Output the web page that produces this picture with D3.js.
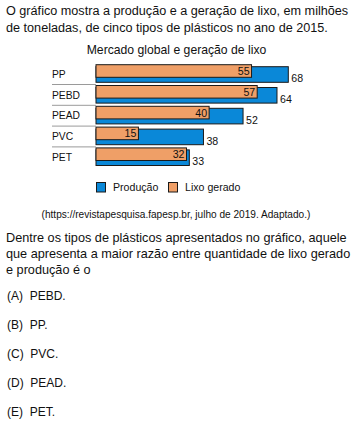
<!DOCTYPE html>
<html><head><meta charset="utf-8">
<script src="https://cdn.jsdelivr.net/npm/d3@7"></script>
<style>
html,body{margin:0;padding:0;background:#fff;}
svg{display:block;font-family:"Liberation Sans",Arial,sans-serif;}
</style></head>
<body>
<svg id="c" width="355" height="430"></svg>
<script>
const categories = ["PP","PEBD","PEAD","PVC","PET"];
const producao = [68,64,52,38,33];
const lixo = [55,57,40,15,32];
const seriesNames = ["Produção","Lixo gerado"];
const headerLines = ["O gráfico mostra a produção e a geração de lixo, em milhões","de toneladas, de cinco tipos de plásticos no ano de 2015."];
const chartTitle = "Mercado global e geração de lixo";
const source = "(https://revistapesquisa.fapesp.br, julho de 2019. Adaptado.)";
const questionLines = ["Dentre os tipos de plásticos apresentados no gráfico, aquele","que apresenta a maior razão entre quantidade de lixo gerado","e produção é o"];
const options = ["(A)  PEBD.","(B)  PP.","(C)  PVC.","(D)  PEAD.","(E)  PET."];

const blue = "#0a88d8", orange = "#ef9f67", stroke = "#1a1a1a";
const svg = d3.select("#c");

svg.selectAll("text.h").data(headerLines).join("text")
  .attr("x",6).attr("y",(d,i)=>15+i*17).attr("font-size",12.65).attr("fill","#111").text(d=>d);

svg.append("text").attr("x",176.5).attr("y",54).attr("text-anchor","middle")
  .attr("font-size",12.2).attr("fill","#111").text(chartTitle);

const x = d3.scaleLinear().domain([0,68]).range([96,288.3]);
const y = d3.scaleBand().domain(categories).range([64,168]).paddingInner(0).paddingOuter(0);
const bw = y.bandwidth();
const data = categories.map((c,i)=>({c,p:producao[i],l:lixo[i]}));

const g = svg.append("g");
g.selectAll("line.sep").data(data.slice(0,-1)).join("line")
  .attr("x1",52).attr("x2",96).attr("y1",d=>y(d.c)+bw-0.3).attr("y2",d=>y(d.c)+bw-0.3)
  .attr("stroke","#9a9a9a").attr("stroke-width",1);
g.selectAll("rect.p").data(data).join("rect")
  .attr("x",x(0)).attr("y",d=>y(d.c)+2.7).attr("width",d=>x(d.p)-x(0)).attr("height",15.6)
  .attr("fill",blue).attr("stroke",stroke).attr("stroke-width",1);
g.selectAll("rect.l").data(data).join("rect")
  .attr("x",x(0)).attr("y",d=>y(d.c)+0.7).attr("width",d=>x(d.l)-x(0)).attr("height",12.6)
  .attr("fill",orange).attr("stroke",stroke).attr("stroke-width",1);
g.selectAll("text.cat").data(data).join("text")
  .attr("x",52).attr("y",d=>y(d.c)+13.8).attr("font-size",10.3).attr("fill","#111").text(d=>d.c);
g.selectAll("text.lv").data(data).join("text")
  .attr("x",d=>x(d.l)-2).attr("y",d=>y(d.c)+11).attr("text-anchor","end")
  .attr("font-size",10.6).attr("fill","#111").text(d=>d.l);
g.selectAll("text.pv").data(data).join("text")
  .attr("x",d=>x(d.p)+3).attr("y",d=>y(d.c)+18.2)
  .attr("font-size",10.6).attr("fill","#111").text(d=>d.p);

const leg = svg.append("g");
const legX = [96,168];
[blue,orange].forEach((col,i)=>{
  leg.append("rect").attr("x",legX[i]+0.5).attr("y",182.5).attr("width",9).attr("height",9.5)
    .attr("fill",col).attr("stroke",stroke).attr("stroke-width",1);
  leg.append("text").attr("x",legX[i]+17).attr("y",191).attr("font-size",10.6).attr("fill","#111").text(seriesNames[i]);
});

svg.append("text").attr("x",176).attr("y",218).attr("text-anchor","middle")
  .attr("font-size",10.1).attr("fill","#111").text(source);

svg.selectAll("text.q").data(questionLines).join("text")
  .attr("x",6).attr("y",(d,i)=>242+i*16).attr("font-size",12.7).attr("fill","#111").text(d=>d);

svg.selectAll("text.o").data(options).join("text")
  .attr("x",7).attr("y",(d,i)=>299.5+i*29.2).attr("font-size",12).attr("fill","#111")
  .style("white-space","pre").text(d=>d);
</script>
</body></html>
